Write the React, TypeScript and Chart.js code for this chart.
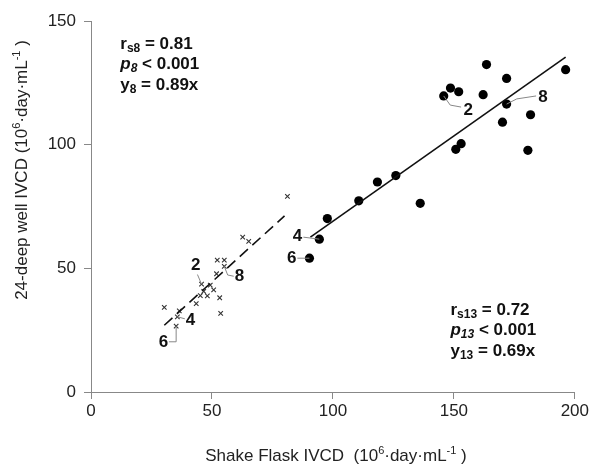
import React, { useEffect, useRef } from "react";
import { Chart, registerables } from "chart.js";

Chart.register(...registerables);

// 13-day series (circles)
const circleX = [196.2, 163.5, 171.8, 148.6, 152.0, 145.8, 162.1, 171.8, 181.7, 170.1, 153.0, 150.8, 180.6, 126.0, 118.4, 110.7, 136.1, 97.7, 94.4, 90.3];
const circleY = [130.3, 132.4, 126.8, 122.9, 121.4, 119.7, 120.2, 116.4, 112.1, 109.1, 100.4, 98.1, 97.7, 87.5, 84.9, 77.3, 76.3, 70.1, 61.8, 54.1];

// 8-day series (crosses)
const crossX = [81.2, 62.7, 65.2, 52.2, 55.1, 55.1, 51.9, 45.7, 49.3, 46.6, 50.7, 45.2, 48.1, 53.2, 43.5, 30.3, 36.5, 53.6, 35.7, 35.2];
const crossY = [79.1, 62.6, 60.9, 53.3, 53.3, 50.8, 47.8, 43.6, 43.2, 40.7, 41.3, 39.0, 38.9, 38.1, 35.7, 34.2, 32.8, 31.8, 30.4, 26.6];

// fitted lines
const fit13X = [90.7, 196.2];
const fit13Y = [62.6, 135.4];
const fit8X = [30.3, 80.0];
const fit8Y = [27.0, 71.2];

const xTicks = [0, 50, 100, 150, 200];
const yTicks = [0, 50, 100, 150];

const FONT = "'Liberation Sans', Arial, sans-serif";

type Seg = { text: string; sub?: boolean; sup?: boolean; italic?: boolean };
const statsTop: Seg[][] = [
  [{ text: "r" }, { text: "s8", sub: true }, { text: " = 0.81" }],
  [{ text: "p", italic: true }, { text: "8", sub: true, italic: true }, { text: " < 0.001" }],
  [{ text: "y" }, { text: "8", sub: true }, { text: " = 0.89x" }],
];
const statsBottom: Seg[][] = [
  [{ text: "r" }, { text: "s13", sub: true }, { text: " = 0.72" }],
  [{ text: "p", italic: true }, { text: "13", sub: true, italic: true }, { text: " < 0.001" }],
  [{ text: "y" }, { text: "13", sub: true }, { text: " = 0.69x" }],
];
const xTitle: Seg[] = [
  { text: "Shake Flask IVCD  (10" },
  { text: "6", sup: true },
  { text: "·day·mL" },
  { text: "-1", sup: true },
  { text: " )" },
];
const yTitle: Seg[] = [
  { text: "24-deep well IVCD (10" },
  { text: "6", sup: true },
  { text: "·day·mL" },
  { text: "-1", sup: true },
  { text: " )" },
];

// point labels: label text, label anchor (data), leader path (data coords)
const pointLabels = [
  { text: "2", at: [155.9, 114.0], path: [[145.8, 119.7], [148.5, 116.0], [153.0, 115.2]] },
  { text: "8", at: [186.8, 119.3], path: [[171.8, 116.4], [176.0, 118.5], [184.0, 119.7]] },
  { text: "4", at: [85.4, 63.0], path: [[87.8, 62.6], [94.4, 61.8]] },
  { text: "6", at: [83.0, 54.1], path: [[85.3, 54.1], [90.3, 54.1]] },
  { text: "2", at: [43.3, 51.3], path: [[44.0, 47.5], [45.7, 43.6]] },
  { text: "8", at: [61.4, 46.6], path: [[55.1, 50.8], [56.5, 47.3], [59.0, 46.8]] },
  { text: "4", at: [41.1, 29.0], path: [[35.7, 30.4], [38.8, 29.6]] },
  { text: "6", at: [30.0, 20.0], path: [[35.2, 26.6], [35.2, 20.3], [32.2, 20.3]] },
];

function drawSegs(ctx: CanvasRenderingContext2D, segs: Seg[], x: number, y: number) {
  let cx = x;
  for (const s of segs) {
    const size = s.sub ? 12 : 17;
    ctx.font = `${s.italic ? "italic " : ""}bold ${size}px ${FONT}`;
    ctx.fillText(s.text, cx, s.sub ? y + 4 : y);
    cx += ctx.measureText(s.text).width;
  }
}

function segWidth(ctx: CanvasRenderingContext2D, segs: Seg[], size: number, supSize: number) {
  let w = 0;
  for (const s of segs) {
    ctx.font = `${s.sup ? supSize : size}px ${FONT}`;
    w += ctx.measureText(s.text).width;
  }
  return w;
}

function drawTitle(ctx: CanvasRenderingContext2D, segs: Seg[], cx: number, cy: number) {
  const size = 17;
  const supSize = 11;
  const w = segWidth(ctx, segs, size, supSize);
  let x = cx - w / 2;
  ctx.textAlign = "left";
  ctx.textBaseline = "middle";
  for (const s of segs) {
    ctx.font = `${s.sup ? supSize : size}px ${FONT}`;
    ctx.fillText(s.text, x, s.sup ? cy - 5 : cy);
    x += ctx.measureText(s.text).width;
  }
}

const annotationPlugin = {
  id: "annots",
  afterDatasetsDraw(chart: any) {
    const ctx: CanvasRenderingContext2D = chart.ctx;
    const xs = chart.scales.x;
    const ys = chart.scales.y;
    ctx.save();
    // leaders
    ctx.strokeStyle = "#888";
    ctx.lineWidth = 1;
    for (const l of pointLabels) {
      ctx.beginPath();
      l.path.forEach((p, i) => {
        const px = xs.getPixelForValue(p[0]);
        const py = ys.getPixelForValue(p[1]);
        if (i === 0) ctx.moveTo(px, py);
        else ctx.lineTo(px, py);
      });
      ctx.stroke();
    }
    ctx.fillStyle = "#111";
    ctx.textAlign = "center";
    ctx.textBaseline = "middle";
    ctx.font = `bold 17px ${FONT}`;
    for (const l of pointLabels) {
      ctx.fillText(l.text, xs.getPixelForValue(l.at[0]), ys.getPixelForValue(l.at[1]));
    }
    // stats
    ctx.textAlign = "left";
    ctx.textBaseline = "middle";
    const topX = xs.getPixelForValue(12.1);
    const topYs = [140.6, 132.5, 124.0];
    statsTop.forEach((segs, i) => drawSegs(ctx, segs, topX, ys.getPixelForValue(topYs[i])));
    const botX = xs.getPixelForValue(148.6);
    const botYs = [33.0, 24.9, 16.4];
    statsBottom.forEach((segs, i) => drawSegs(ctx, segs, botX, ys.getPixelForValue(botYs[i])));

    // axis titles
    ctx.fillStyle = "#222";
    drawTitle(ctx, xTitle, 336, 456);
    ctx.translate(22, 170);
    ctx.rotate(-Math.PI / 2);
    drawTitle(ctx, yTitle, 0, 0);
    ctx.restore();
  },
};

export default function App() {
  const ref = useRef<HTMLCanvasElement | null>(null);
  useEffect(() => {
    if (!ref.current) return;
    const chart = new Chart(ref.current, {
      type: "scatter",
      data: {
        datasets: [
          {
            type: "line",
            data: fit13X.map((x, i) => ({ x, y: fit13Y[i] })),
            borderColor: "#111",
            borderWidth: 1.6,
            pointRadius: 0,
            fill: false,
          } as any,
          {
            type: "line",
            data: fit8X.map((x, i) => ({ x, y: fit8Y[i] })),
            borderColor: "#111",
            borderWidth: 1.6,
            borderDash: [11, 6],
            pointRadius: 0,
            fill: false,
          } as any,
          {
            data: circleX.map((x, i) => ({ x, y: circleY[i] })),
            pointStyle: "circle",
            pointRadius: 4.6,
            backgroundColor: "#000",
            borderColor: "#000",
            borderWidth: 0,
          },
          {
            data: crossX.map((x, i) => ({ x, y: crossY[i] })),
            pointStyle: "crossRot",
            pointRadius: 3.2,
            borderColor: "#333",
            borderWidth: 1.1,
          },
        ],
      },
      options: {
        responsive: false,
        animation: false,
        devicePixelRatio: 1,
        layout: { padding: { top: 21, right: 15, left: 0, bottom: 0 } },
        plugins: { legend: { display: false }, tooltip: { enabled: false } },
        scales: {
          x: {
            type: "linear",
            min: 0,
            max: 200,
            afterBuildTicks: (s: any) => {
              s.ticks = xTicks.map((v) => ({ value: v }));
            },
            afterFit: (s: any) => {
              s.height = 76;
            },
            ticks: { color: "#222", font: { family: FONT, size: 17 }, padding: 2 },
            grid: { drawOnChartArea: false, drawTicks: true, tickLength: 7, color: "#888" },
            border: { color: "#888", width: 1 },
          },
          y: {
            type: "linear",
            min: 0,
            max: 150,
            afterBuildTicks: (s: any) => {
              s.ticks = yTicks.map((v) => ({ value: v }));
            },
            afterFit: (s: any) => {
              s.width = 91;
            },
            ticks: { color: "#222", font: { family: FONT, size: 17 }, padding: 8 },
            grid: { drawOnChartArea: false, drawTicks: true, tickLength: 7, color: "#888" },
            border: { color: "#888", width: 1 },
          },
        },
      },
      plugins: [annotationPlugin],
    });
    return () => chart.destroy();
  }, []);
  return (
    <div style={{ position: "fixed", left: 0, top: 0, width: 591, height: 468, background: "#fff" }}>
      <canvas ref={ref} width={591} height={468} style={{ display: "block" }} />
    </div>
  );
}
